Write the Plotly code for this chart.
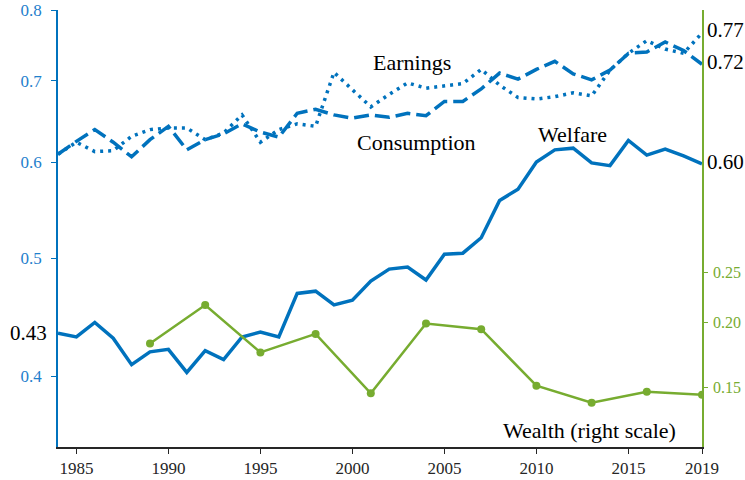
import math
import plotly.graph_objects as go

years = list(range(1984, 2020))
earnings = [0.609, 0.623, 0.612, 0.613, 0.630, 0.638, 0.640, 0.640, 0.626, 0.634,
            0.656, 0.623, 0.638, 0.645, 0.642, 0.711, 0.688, 0.666, 0.682, 0.697,
            0.690, 0.693, 0.696, 0.715, 0.694, 0.678, 0.676, 0.679, 0.684, 0.680,
            0.714, 0.737, 0.755, 0.743, 0.737, 0.766]
consumption = [0.609, 0.624, 0.638, 0.623, 0.606, 0.626, 0.642, 0.614, 0.626, 0.633,
               0.645, 0.635, 0.629, 0.658, 0.663, 0.656, 0.652, 0.656, 0.653, 0.658,
               0.655, 0.673, 0.673, 0.689, 0.710, 0.702, 0.715, 0.726, 0.709, 0.701,
               0.714, 0.737, 0.739, 0.753, 0.741, 0.722]
welfare = [0.434, 0.431, 0.443, 0.430, 0.409, 0.419, 0.421, 0.403, 0.420, 0.413,
           0.431, 0.435, 0.431, 0.468, 0.470, 0.458, 0.462, 0.479, 0.490, 0.492,
           0.480, 0.504, 0.505, 0.520, 0.558, 0.570, 0.600, 0.614, 0.616, 0.599,
           0.596, 0.625, 0.608, 0.615, 0.607, 0.598]
wealth_years = [1989, 1992, 1995, 1998, 2001, 2004, 2007, 2010, 2013, 2016, 2019]
wealth = [0.182, 0.216, 0.175, 0.190, 0.146, 0.199, 0.194, 0.151, 0.140, 0.147, 0.145]

x_ticks = [1985, 1990, 1995, 2000, 2005, 2010, 2015, 2019]
left_ticks = [0.4, 0.5, 0.6, 0.7, 0.8]
right_ticks = [0.15, 0.20, 0.25]

BLUE = "#0072BD"
BLUE_TXT = "#1f80cc"
GREEN = "#77AC30"
FONT = "Liberation Serif"

fig = go.Figure()
fig.add_trace(go.Scatter(x=years, y=earnings, mode="lines",
                         line=dict(color=BLUE, width=3.5, dash="3px,5px"), showlegend=False))
fig.add_trace(go.Scatter(x=years, y=consumption, mode="lines",
                         line=dict(color=BLUE, width=3.5, dash="15px,6px"), showlegend=False))
fig.add_trace(go.Scatter(x=years, y=welfare, mode="lines",
                         line=dict(color=BLUE, width=3.5), showlegend=False))
fig.add_trace(go.Scatter(x=wealth_years, y=wealth, mode="lines+markers", yaxis="y2",
                         line=dict(color=GREEN, width=2.5),
                         marker=dict(color=GREEN, size=8), showlegend=False))

annots = []
for txt, x, y in [("Earnings", 0.550, 0.879), ("Consumption", 0.557, 0.696),
                  ("Welfare", 0.799, 0.716), ("Wealth (right scale)", 0.826, 0.037)]:
    annots.append(dict(text=txt, x=x, y=y, xref="paper", yref="paper",
                       xanchor="center", yanchor="middle", showarrow=False,
                       font=dict(family=FONT, size=22, color="black")))

for series, shift in [(earnings, 3), (consumption, 2), (welfare, 2)]:
    v = series[-1]
    annots.append(dict(text=f"{v:.2f}", x=1.0, y=math.log10(v), xref="paper", yref="y",
                       xanchor="left", yanchor="middle", xshift=3, yshift=shift,
                       showarrow=False, font=dict(family=FONT, size=21, color="black")))
annots.append(dict(text=f"{welfare[0]:.2f}", x=0.0, y=math.log10(welfare[0]),
                   xref="paper", yref="y", xanchor="right", yanchor="middle",
                   xshift=-9, showarrow=False,
                   font=dict(family=FONT, size=21, color="black")))

fig.update_layout(
    width=745, height=480,
    margin=dict(l=58, r=43, t=10, b=33, autoexpand=False),
    paper_bgcolor="white", plot_bgcolor="white",
    font=dict(family=FONT, size=16),
    annotations=annots,
    xaxis=dict(range=[1984, 2019], tickvals=x_ticks, ticktext=[str(t) for t in x_ticks],
               automargin=False,
               showgrid=False, zeroline=False, showline=True, linecolor="#262626",
               linewidth=1.5, ticks="outside", ticklen=5, tickcolor="#262626",
               tickwidth=1.2, tickfont=dict(family=FONT, size=17, color="#262626")),
    yaxis=dict(type="log", range=[math.log10(0.35), math.log10(0.8)],
               tickvals=left_ticks, ticktext=[f"{t:.1f}" for t in left_ticks],
               automargin=False,
               showgrid=False, zeroline=False, showline=True, linecolor=BLUE,
               linewidth=1.5, ticks="outside", ticklen=5, tickcolor=BLUE, tickwidth=1.2,
               ticklabelstandoff=6,
               tickfont=dict(family=FONT, size=17, color=BLUE_TXT)),
    yaxis2=dict(type="log", range=[math.log10(0.115), math.log10(0.80)],
                overlaying="y", side="right", automargin=False,
                tickvals=right_ticks, ticktext=[f"{t:.2f}" for t in right_ticks],
                showgrid=False, zeroline=False, showline=True, linecolor=GREEN,
                linewidth=1.5, ticks="outside", ticklen=4, tickcolor=GREEN, tickwidth=1.2,
                ticklabelstandoff=2,
                tickfont=dict(family=FONT, size=16, color=GREEN)),
)

fig.write_html("out.html", config={"displayModeBar": False},
               post_script="document.body.style.margin='0';document.body.style.padding='0';")
